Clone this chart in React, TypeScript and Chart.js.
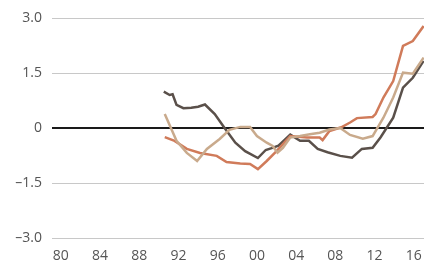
import React, { useEffect, useRef } from "react";
import { Chart, registerables } from "chart.js";

Chart.register(...registerables);

const xTickYears = [1980, 1984, 1988, 1992, 1996, 2000, 2004, 2008, 2012, 2016];
const yTickValues = [-3, -1.5, 0, 1.5, 3];

const darkYears = [1990.5, 1991.1, 1991.4, 1991.8, 1992.5, 1993.3, 1994.0, 1994.7, 1995.7, 1996.7, 1997.8, 1998.8, 2000.1, 2000.9, 2001.5, 2002.2, 2003.4, 2004.4, 2005.3, 2006.2, 2007.2, 2008.5, 2009.7, 2010.7, 2011.8, 2012.6, 2013.9, 2014.9, 2015.9, 2017.0];
const darkValues = [0.99, 0.9, 0.92, 0.63, 0.54, 0.55, 0.58, 0.64, 0.38, 0.0, -0.4, -0.63, -0.82, -0.6, -0.55, -0.48, -0.18, -0.35, -0.35, -0.57, -0.66, -0.76, -0.81, -0.57, -0.54, -0.26, 0.28, 1.1, 1.37, 1.83];

const orangeYears = [1990.6, 1991.6, 1992.85, 1994.2, 1995.9, 1996.9, 1998.3, 1999.3, 2000.1, 2001.0, 2002.0, 2003.4, 2005.1, 2006.4, 2006.7, 2007.4, 2008.6, 2009.5, 2010.2, 2011.8, 2012.1, 2012.9, 2013.9, 2014.9, 2015.9, 2017.0];
const orangeValues = [-0.25, -0.35, -0.57, -0.68, -0.76, -0.93, -0.97, -0.98, -1.12, -0.9, -0.63, -0.22, -0.26, -0.26, -0.33, -0.08, 0.02, 0.15, 0.27, 0.3, 0.38, 0.83, 1.28, 2.24, 2.37, 2.78];

const tanYears = [1990.6, 1991.8, 1992.85, 1993.9, 1994.9, 1996.2, 1997.2, 1998.3, 1999.3, 2000.0, 2001.0, 2001.6, 2002.1, 2002.65, 2003.4, 2004.4, 2005.4, 2006.4, 2007.4, 2008.5, 2009.5, 2010.8, 2011.8, 2012.9, 2013.9, 2014.9, 2015.9, 2017.0];
const tanValues = [0.38, -0.35, -0.68, -0.9, -0.57, -0.3, -0.05, 0.03, 0.03, -0.22, -0.4, -0.49, -0.67, -0.54, -0.26, -0.22, -0.17, -0.13, -0.04, 0.0, -0.19, -0.29, -0.22, 0.28, 0.83, 1.51, 1.48, 1.92];

const toPoints = (xs: number[], ys: number[]) => xs.map((x, i) => ({ x, y: ys[i] }));

export default function App() {
  const ref = useRef<HTMLCanvasElement | null>(null);

  useEffect(() => {
    document.body.style.margin = "0";
    const ctx = ref.current!.getContext("2d")!;
    const font = { family: "'Open Sans', sans-serif", size: 14 };
    const line = (data: { x: number; y: number }[], color: string) => ({
      data,
      borderColor: color,
      backgroundColor: color,
      borderWidth: 2.5,
      pointRadius: 0,
      tension: 0,
      fill: false,
    });
    const chart = new Chart(ctx, {
      type: "line",
      data: {
        datasets: [
          line(toPoints(tanYears, tanValues), "#c9aa8c"),
          line(toPoints(orangeYears, orangeValues), "#d07b5a"),
          line(toPoints(darkYears, darkValues), "#5a504a"),
        ],
      },
      options: {
        animation: false,
        responsive: false,
        maintainAspectRatio: false,
        layout: { padding: { top: 18, left: 8, right: 0, bottom: 4 } },
        plugins: { legend: { display: false }, tooltip: { enabled: false } },
        scales: {
          x: {
            type: "linear",
            min: 1979.1,
            max: 2017.04,
            afterBuildTicks: (scale: any) => {
              scale.ticks = xTickYears.map((v) => ({ value: v }));
            },
            afterFit: (scale: any) => {
              scale.paddingLeft = 0;
              scale.paddingRight = 0;
              scale.height = 27;
            },
            ticks: {
              font,
              color: "#555",
              padding: 10,
              maxRotation: 0,
              autoSkip: false,
              callback: (v: any) => String(Number(v) % 100).padStart(2, "0"),
            },
            grid: { display: false, drawTicks: false },
            border: { display: false },
          },
          y: {
            min: -3,
            max: 3,
            afterBuildTicks: (scale: any) => {
              scale.ticks = yTickValues.map((v) => ({ value: v }));
            },
            afterFit: (scale: any) => {
              scale.width = 44;
              scale.paddingTop = 0;
              scale.paddingBottom = 0;
            },
            ticks: {
              font,
              color: "#555",
              padding: 10,
              callback: (v: any) => {
                const n = Number(v);
                if (n === 0) return "0";
                return (n < 0 ? "\u2013" : "") + Math.abs(n).toFixed(1);
              },
            },
            grid: {
              drawTicks: false,
              color: (c: any) => (c.tick && c.tick.value === 0 ? "#1a1a1a" : "#c8c8c8"),
              lineWidth: (c: any) => (c.tick && c.tick.value === 0 ? 2 : 1),
            },
            border: { display: false },
          },
        },
      },
    } as any);
    return () => chart.destroy();
  }, []);

  return (
    <div style={{ width: 424, height: 269 }}>
      <canvas ref={ref} width={424} height={269} style={{ display: "block", width: 424, height: 269 }} />
    </div>
  );
}
